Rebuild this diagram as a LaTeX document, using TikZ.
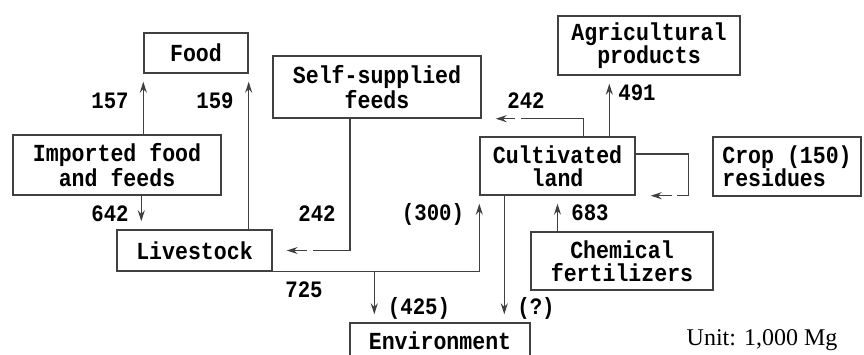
\documentclass[tikz,border=0pt]{standalone}
\usepackage{fontspec}
\setmainfont{Liberation Serif}
\setmonofont{Liberation Mono}[FakeStretch=0.88]
\usetikzlibrary{arrows.meta}

\begin{document}
\begin{tikzpicture}[x=1pt,y=-1pt,line width=1.25pt,
  box/.style={draw=black!75,line width=1.4pt,align=center,inner sep=0pt,
    font=\ttfamily\bfseries\fontsize{24.5}{23}\selectfont},
  line/.style={draw=black!75},
  flow/.style={draw=black!75,shorten >=8pt,-{Stealth[length=11pt,width=7pt]}},
  num/.style={font=\ttfamily\bfseries\fontsize{23.5}{22}\selectfont}]
  \useasboundingbox (0,0) rectangle (864,354);
  \clip (0,0) rectangle (864,354);

  % boxes
  \node[box,minimum width=104pt,minimum height=40pt] (food) at (196,53) {Food};
  \node[box,minimum width=208pt,minimum height=60pt] (imp) at (117,165) {Imported food\\and feeds};
  \node[box,minimum width=155pt,minimum height=41pt] (live) at (194.5,250.5) {Livestock};
  \node[box,minimum width=208pt,minimum height=62pt] (self) at (377,87) {Self-supplied\\feeds};
  \node[box,minimum width=182pt,minimum height=59pt] (agri) at (649,45.5) {Agricultural\\products};
  \node[box,minimum width=155pt,minimum height=58pt] (cult) at (557.5,166) {Cultivated\\land};
  \node[box,minimum width=148pt,minimum height=59pt,align=left] (crop) at (787,166.5) {Crop (150)\\residues};
  \node[box,minimum width=182pt,minimum height=58pt] (chem) at (622,261) {Chemical\\fertilizers};
  \node[box,minimum width=180pt,minimum height=36pt] (env) at (440,341) {Environment};

  \coordinate (e425) at ([xshift=25pt]env.north west);
  \coordinate (eq) at ([xshift=155pt]env.north west);
  \coordinate (a491) at ([xshift=52pt]agri.south west);

  % flows
  \draw[flow] (imp.north -| food.south west) -- (food.south west);
  \draw[flow] (live.north -| food.south east) -- (food.south east);
  \draw[flow] ([xshift=-2pt]imp.south -| food.south west) -- ([xshift=-2pt]live.north -| food.south west);
  \draw[line] ([xshift=-27pt]self.south) |- ([xshift=40pt]live.east);
  \draw[flow,shorten >=14pt] ([xshift=34pt]live.east) -- (live.east);
  \draw[flow] (live.south east) -| (cult.south west);
  \draw[flow] (e425 |- live.south) -- (e425);
  \draw[flow] (eq |- cult.south) -- (eq);
  \draw[line] ([xshift=104pt]cult.north west) |- ([xshift=39pt]self.south east);
  \draw[flow,shorten >=14pt] ([xshift=33pt]self.south east) -- (self.south east);
  \draw[flow] (a491 |- cult.north) -- (a491);
  \draw[line] ([yshift=12pt]cult.east) -| ([xshift=53pt]cult.south east) -- ([xshift=41pt]cult.south east);
  \draw[flow,shorten >=15pt] ([xshift=36pt]cult.south east) -- (cult.south east);
  \draw[flow] (chem.north -| cult.south) -- (cult.south);

  % amounts
  \foreach \x/\y/\t/\n in {110/101/157/n157,215/101/159/n159,110/214/642/n642,
      317/214/242/n242a,433/214/(300)/n300,304/290/725/n725,419/308/(425)/n425,
      536/308/(?)/nq,526/101/242/n242b,637/93/491/n491,590/213/683/n683}
    \node[num] (\n) at (\x,\y) {\t};
  \node[font=\fontsize{24}{26}\selectfont] (unit) at (762,340) {Unit: 1,000 Mg};
\end{tikzpicture}
\end{document}
